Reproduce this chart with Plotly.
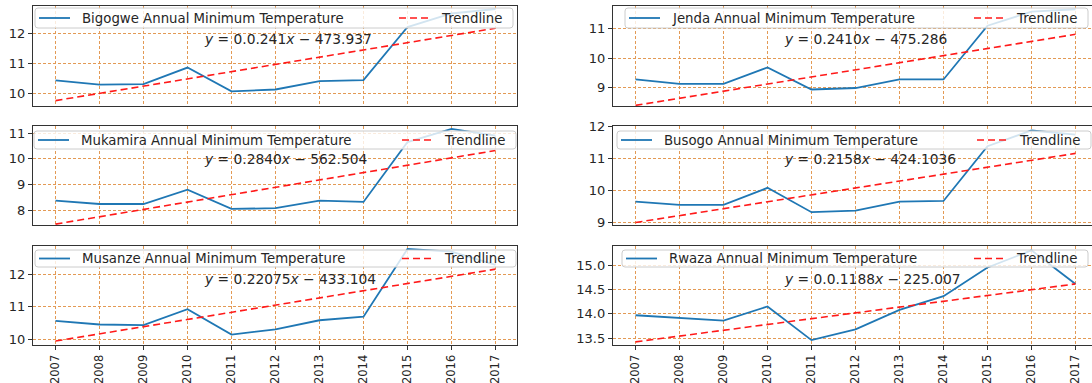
import plotly.graph_objects as go

years = list(range(2007, 2018))

# Annual minimum temperature per station (deg C)
bigogwe = [10.42, 10.28, 10.30, 10.85, 10.06, 10.12, 10.40, 10.43, 12.20, 12.65, 12.80]
jenda = [9.28, 9.13, 9.13, 9.69, 8.94, 8.99, 9.28, 9.28, 11.10, 11.58, 11.66]
mukamira = [8.39, 8.26, 8.26, 8.81, 8.07, 8.10, 8.39, 8.34, 10.65, 11.16, 10.90]
busogo = [9.66, 9.56, 9.56, 10.09, 9.33, 9.38, 9.66, 9.68, 11.39, 11.88, 11.75]
musanze = [10.56, 10.45, 10.43, 10.92, 10.14, 10.30, 10.58, 10.69, 12.77, 12.69, 12.28]
rwaza = [13.97, 13.92, 13.86, 14.15, 13.46, 13.68, 14.08, 14.36, 14.95, 15.30, 14.61]

# Linear trend coefficients (slope, intercept) and the printed equations
trend_bigogwe = (0.241, -473.937)
trend_jenda = (0.2410, -475.286)
trend_mukamira = (0.2840, -562.504)
trend_busogo = (0.2158, -424.1036)
trend_musanze = (0.22075, -433.104)
trend_rwaza = (0.1188, -225.007)

eq_bigogwe = "<i>y</i> = 0.0.241<i>x</i> − 473.937"
eq_jenda = "<i>y</i> = 0.2410<i>x</i> − 475.286"
eq_mukamira = "<i>y</i> = 0.2840<i>x</i> − 562.504"
eq_busogo = "<i>y</i> = 0.2158<i>x</i> − 424.1036"
eq_musanze = "<i>y</i> = 0.22075<i>x</i> − 433.104"
eq_rwaza = "<i>y</i> = 0.0.1188<i>x</i> − 225.007"

W, H = 1092, 383
FONT = "DejaVu Sans"
TXT = "#262626"
BLUE = "#1f77b4"
RED = "#ff1a1a"
GRID = "#e39a55"

panels = [
    # name, values, trend, equation, y-range, col, row, y tick step, legend box left/right (px)
    ("Bigogwe", bigogwe, trend_bigogwe, eq_bigogwe, [9.57, 12.9], 0, 0, 1, (35, 513)),
    ("Jenda", jenda, trend_jenda, eq_jenda, [8.38, 11.77], 1, 0, 1, (625, 1088)),
    ("Mukamira", mukamira, trend_mukamira, eq_mukamira, [7.45, 11.27], 0, 1, 1, (34, 516)),
    ("Busogo", busogo, trend_busogo, eq_busogo, [8.93, 12.02], 1, 1, 1, (617, 1091)),
    ("Musanze", musanze, trend_musanze, eq_musanze, [9.82, 12.86], 0, 2, 1, (35, 516)),
    ("Rwaza", rwaza, trend_rwaza, eq_rwaza, [13.36, 15.39], 1, 2, 0.5, (622, 1088)),
]

# pixel layout of the panels
col_px = [(33, 517), (613, 1092)]
row_px = [(6, 106), (126, 225), (246, 345)]
legend_px = [(8, 28, 18), (131, 149, 140), (250, 267, 258.5)]  # top, bottom, text centre
px_per_year = 44.0
x_start = 2006.5 - 0.5 / px_per_year  # keeps year gridlines on pixel centres


def px(x):
    return x / W


def py(y):
    return 1 - y / H


def rounded_rect(x0, y0, x1, y1, r=3):
    X0, X1 = px(x0), px(x1)
    Y0, Y1 = py(y0), py(y1)
    rx, ry = r / W, r / H
    return (f"M{X0 + rx},{Y0} L{X1 - rx},{Y0} Q{X1},{Y0} {X1},{Y0 - ry} "
            f"L{X1},{Y1 + ry} Q{X1},{Y1} {X1 - rx},{Y1} L{X0 + rx},{Y1} "
            f"Q{X0},{Y1} {X0},{Y1 + ry} L{X0},{Y0 - ry} Q{X0},{Y0} {X0 + rx},{Y0} Z")


fig = go.Figure()
layout = dict(
    width=W, height=H, margin=dict(l=0, r=0, t=0, b=0),
    paper_bgcolor="white", plot_bgcolor="white",
    font=dict(family=FONT, size=12, color=TXT),
    showlegend=False,
)
annotations = []
shapes = []

for i, (name, vals, (m, b), eq, yr, col, row, dt, (bl, br)) in enumerate(panels):
    k = i + 1
    xa = "x" if k == 1 else f"x{k}"
    ya = "y" if k == 1 else f"y{k}"
    trend = [m * yv + b for yv in years]
    label = f"{name} Annual Minimum Temperature"

    fig.add_trace(go.Scatter(
        x=years, y=vals, mode="lines", name=label,
        line=dict(color=BLUE, width=1.8), xaxis=xa, yaxis=ya,
    ))
    fig.add_trace(go.Scatter(
        x=years, y=trend, mode="lines", name="Trendline",
        line=dict(color=RED, width=1.6, dash="7px,4px"), xaxis=xa, yaxis=ya,
    ))

    x0, x1 = col_px[col]
    y0, y1 = row_px[row]
    xr1 = x_start + (x1 - x0) / px_per_year
    bottom = row == 2

    layout["xaxis" if k == 1 else f"xaxis{k}"] = dict(
        domain=[x0 / W, x1 / W], anchor=ya, range=[x_start, xr1],
        tickmode="array", tickvals=years, ticktext=[str(v) for v in years],
        showticklabels=bottom, tickangle=-90, tickfont=dict(size=11.5),
        ticks="outside" if bottom else "", ticklen=4, tickcolor="#333",
        showgrid=True, gridcolor=GRID, griddash="3px,2px", gridwidth=1,
        showline=True, mirror=True, linecolor="#333", linewidth=1.3,
        zeroline=False, automargin=False,
    )
    layout["yaxis" if k == 1 else f"yaxis{k}"] = dict(
        domain=[1 - y1 / H, 1 - y0 / H], anchor=xa, range=yr,
        dtick=dt, tick0=0, tickformat=".1f" if dt < 1 else "d",
        tickfont=dict(size=13),
        ticks="outside", ticklen=4, tickcolor="#333",
        showgrid=True, gridcolor=GRID, griddash="3px,2px", gridwidth=1,
        showline=True, mirror=True, linecolor="#333", linewidth=1.3,
        zeroline=False, automargin=False,
    )

    # legend box with the two entries
    lt, lb, lc = legend_px[row]
    shapes.append(dict(
        type="path", path=rounded_rect(bl, lt, br, lb), xref="paper", yref="paper",
        fillcolor="rgba(255,255,255,0.8)", line=dict(color="#cccccc", width=1), layer="above",
    ))
    shapes.append(dict(
        type="line", xref="paper", yref="paper", x0=px(bl + 4), x1=px(bl + 35),
        y0=py(lc), y1=py(lc), line=dict(color=BLUE, width=1.8), layer="above",
    ))
    shapes.append(dict(
        type="line", xref="paper", yref="paper", x0=px(br - 114), x1=px(br - 84),
        y0=py(lc), y1=py(lc), line=dict(color=RED, width=1.6, dash="7px,4px"), layer="above",
    ))
    annotations.append(dict(
        text=label, xref="paper", yref="paper", x=px(bl + 45), y=py(lc),
        xanchor="left", yanchor="middle", showarrow=False,
        font=dict(family=FONT, size=13.3, color=TXT),
    ))
    annotations.append(dict(
        text="Trendline", xref="paper", yref="paper", x=px(br - 74), y=py(lc),
        xanchor="left", yanchor="middle", showarrow=False,
        font=dict(family=FONT, size=13.3, color=TXT),
    ))

    # trend equation
    annotations.append(dict(
        text=eq, xref="paper", yref="paper",
        x=px(x0 + 169), y=py(y0 + 33),
        xanchor="left", yanchor="middle", showarrow=False,
        font=dict(family=FONT, size=13.8, color=TXT),
    ))

layout["annotations"] = annotations
layout["shapes"] = shapes
fig.update_layout(**layout)
fig.write_html("out.html")
